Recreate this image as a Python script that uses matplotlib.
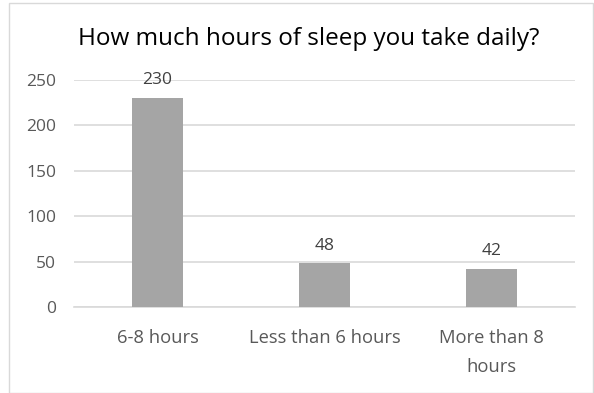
import matplotlib
matplotlib.use("Agg")
import matplotlib.pyplot as plt
from matplotlib.patches import Rectangle

categories = ["6-8 hours", "Less than 6 hours", "More than 8\nhours"]
counts = [230, 48, 42]
y_ticks = [0, 50, 100, 150, 200, 250]
title = "How much hours of sleep you take daily?"

plt.rcParams["font.family"] = ["Open Sans", "DejaVu Sans"]

W, H = 594, 393
fig = plt.figure(figsize=(W / 100, H / 100), dpi=100)

# plot area in pixel coordinates
left, right, top, bottom = 74, 575, 80, 307
ax = fig.add_axes([left / W, 1 - bottom / H, (right - left) / W, (bottom - top) / H])

x = list(range(len(categories)))
ax.bar(x, counts, width=0.31, color="#A5A5A5", zorder=3)
for xi, v in zip(x, counts):
    ax.annotate(str(v), (xi, v), xytext=(0, 7), textcoords="offset points",
                ha="center", va="bottom", fontsize=12.5, color="#404040", zorder=4)

ax.set_xlim(-0.5, len(categories) - 0.5)
ax.set_ylim(0, 250)
ax.set_yticks(y_ticks)
ax.set_xticks(x)
ax.set_xticklabels(categories)
ax.yaxis.grid(True, color="#D9D9D9", linewidth=1.2, zorder=0)
for s in ["top", "right", "left"]:
    ax.spines[s].set_visible(False)
ax.spines["bottom"].set_color("#D9D9D9")
ax.spines["bottom"].set_linewidth(1.2)
ax.tick_params(axis="y", length=0, labelsize=12.5, labelcolor="#595959", pad=13)
ax.tick_params(axis="x", length=0, labelsize=13.2, labelcolor="#595959", pad=16)
for lbl in ax.get_xticklabels():
    lbl.set_linespacing(1.75)

fig.text(0.52, 1 - 39 / H, title, ha="center", va="center", fontsize=17.5, color="#000000")

# chart border
fig.patches.append(Rectangle((9 / W, 0.5 / H), (W - 10) / W, (H - 3) / H,
                             transform=fig.transFigure, fill=False,
                             edgecolor="#D9D9D9", linewidth=1))

fig.savefig("out.png", dpi=100, facecolor="white")
